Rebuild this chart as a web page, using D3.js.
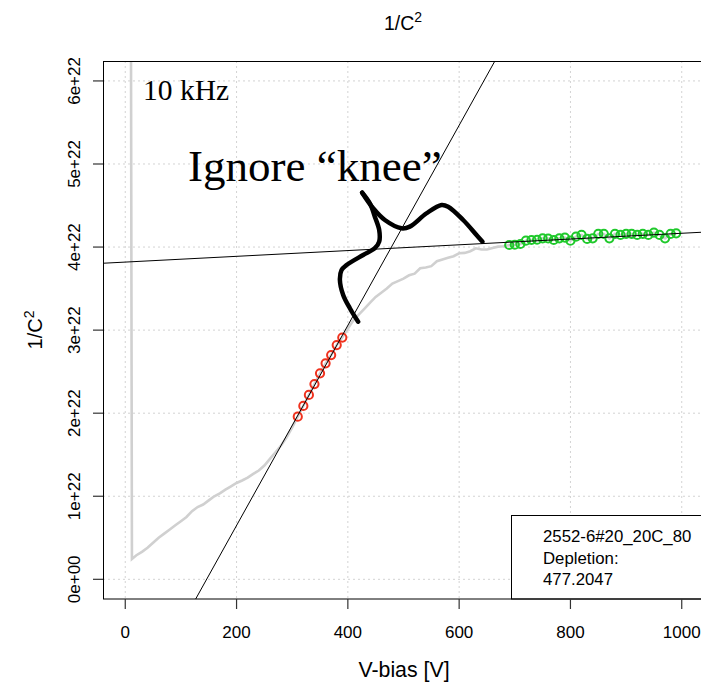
<!DOCTYPE html>
<html>
<head>
<meta charset="utf-8">
<script src="https://cdn.jsdelivr.net/npm/d3@7"></script>
<style>
  body { margin: 0; background: #fff; }
  text { font-family: "Liberation Sans", Arial, sans-serif; }
  .serif { font-family: "Liberation Serif", "Times New Roman", serif; }
</style>
</head>
<body>
<svg id="chart" width="701" height="683"></svg>
<script>
// values of 1/C^2 are in units of 1e22
const xTicks = [0, 200, 400, 600, 800, 1000];
const yTicks = [0, 1, 2, 3, 4, 5, 6];
const yTickLabels = ["0e+00", "1e+22", "2e+22", "3e+22", "4e+22", "5e+22", "6e+22"];

// full measured curve (grey)
const curveV = [10, 12, 20, 30, 40, 50, 60, 70, 80, 90, 100, 110, 120, 130, 140, 150, 160, 170, 180, 190,
  200, 210, 220, 230, 240, 250, 260, 270, 280, 290, 300,
  310, 320, 330, 340, 350, 360, 370, 380, 390,
  400, 410, 420, 430, 440, 450, 460, 470, 480, 490, 500, 510, 520, 530, 540, 550, 560, 570, 580, 590,
  600, 610, 620, 630, 640, 650, 660, 670, 680];
const curveY = [7.5, 0.245, 0.29, 0.33, 0.38, 0.44, 0.50, 0.55, 0.60, 0.65, 0.70, 0.75, 0.82, 0.87, 0.90, 0.95, 1.00, 1.035, 1.08, 1.12,
  1.16, 1.19, 1.225, 1.27, 1.31, 1.37, 1.45, 1.53, 1.61, 1.71, 1.83,
  1.958, 2.087, 2.22, 2.35, 2.48, 2.60, 2.70, 2.82, 2.91,
  3.02, 3.12, 3.19, 3.26, 3.33, 3.40, 3.45, 3.50, 3.56, 3.59, 3.62, 3.66, 3.68, 3.745, 3.755, 3.77, 3.83, 3.85, 3.87, 3.89,
  3.925, 3.93, 3.95, 3.985, 3.97, 3.97, 3.99, 4.005, 4.01];

// points used for the steep fit (red)
const redV = [310, 320, 330, 340, 350, 360, 370, 380, 390];
const redY = [1.958, 2.087, 2.22, 2.35, 2.48, 2.60, 2.70, 2.82, 2.91];

// points used for the flat fit (green)
const greenV = [690, 700, 710, 720, 730, 740, 750, 760, 770, 780, 790, 800, 810, 820, 830, 840,
  850, 860, 870, 880, 890, 900, 910, 920, 930, 940, 950, 960, 970, 980, 990];
const greenY = [4.025, 4.028, 4.037, 4.077, 4.085, 4.088, 4.105, 4.103, 4.085, 4.105, 4.113, 4.077, 4.125, 4.146, 4.098, 4.105,
  4.158, 4.158, 4.105, 4.158, 4.146, 4.158, 4.158, 4.146, 4.158, 4.146, 4.173, 4.146, 4.105, 4.158, 4.165];

// fit lines: y = slope * V + intercept
const fitSteep = { slope: 0.012045, intercept: -1.761 };
const fitFlat = { slope: 0.000347, intercept: 3.819 };

// hand-drawn "knee" mark, in data coordinates
const kneeStroke1 = [[418.5, 3.102], [412.6, 3.162], [403.6, 3.263], [391.6, 3.423], [385.7, 3.604], [388.7, 3.724],
  [397.7, 3.784], [427.5, 3.905], [448.5, 3.986], [456.3, 4.065], [456.3, 4.206], [448.5, 4.366], [439.5, 4.527], [425.7, 4.655]];
const kneeStroke2 = [[425.7, 4.655], [445.5, 4.467], [466.5, 4.326], [496.5, 4.226], [511.4, 4.246], [541.4, 4.407],
  [568.4, 4.507], [580.2, 4.486], [607.2, 4.326], [631.2, 4.146], [642, 4.065]];

const legendLines = ["2552-6#20_20C_80", "Depletion:", "477.2047"];

const svg = d3.select("#chart");
const margin = { top: 61, left: 103, bottom: 84, right: -3 };
const width = 701 - margin.left - margin.right;
const height = 683 - margin.top - margin.bottom;

const x = d3.scaleLinear().domain([-40, 1040]).range([margin.left, margin.left + width]);
const y = d3.scaleLinear().domain([-0.237, 6.24]).range([margin.top + height, margin.top]);

svg.append("clipPath").attr("id", "plotClip")
  .append("rect")
  .attr("x", margin.left).attr("y", margin.top)
  .attr("width", width).attr("height", height);

// grid
const grid = svg.append("g").attr("stroke", "#d3d3d3").attr("stroke-dasharray", "2,3").attr("stroke-width", 1);
grid.selectAll(".gx").data(xTicks).enter().append("line")
  .attr("x1", d => x(d)).attr("x2", d => x(d))
  .attr("y1", margin.top).attr("y2", margin.top + height);
grid.selectAll(".gy").data(yTicks).enter().append("line")
  .attr("x1", margin.left).attr("x2", margin.left + width)
  .attr("y1", d => y(d)).attr("y2", d => y(d));

const plot = svg.append("g").attr("clip-path", "url(#plotClip)");

// grey measured curve
const allV = curveV.concat(greenV);
const allY = curveY.concat(greenY);
const line = d3.line().x(d => x(d[0])).y(d => y(d[1]));
plot.append("path")
  .datum(allV.map((v, i) => [v, allY[i]]))
  .attr("fill", "none")
  .attr("stroke", "#d0d0d0")
  .attr("stroke-width", 2.6)
  .attr("d", line);

// fit points
plot.selectAll(".red").data(redV).enter().append("circle")
  .attr("cx", d => x(d)).attr("cy", (d, i) => y(redY[i]))
  .attr("r", 4.1).attr("fill", "none").attr("stroke", "#f0321e").attr("stroke-width", 2);
plot.selectAll(".green").data(greenV).enter().append("circle")
  .attr("cx", d => x(d)).attr("cy", (d, i) => y(greenY[i]))
  .attr("r", 4.1).attr("fill", "none").attr("stroke", "#1fc92b").attr("stroke-width", 2);

// fit lines
[fitSteep, fitFlat].forEach(f => {
  const v0 = -40, v1 = 1040;
  plot.append("line")
    .attr("x1", x(v0)).attr("y1", y(f.slope * v0 + f.intercept))
    .attr("x2", x(v1)).attr("y2", y(f.slope * v1 + f.intercept))
    .attr("stroke", "#000").attr("stroke-width", 1);
});

// hand drawn annotation
const curvy = d3.line().x(d => x(d[0])).y(d => y(d[1])).curve(d3.curveCatmullRom);
[kneeStroke1, kneeStroke2].forEach(s => {
  plot.append("path").datum(s)
    .attr("fill", "none").attr("stroke", "#000")
    .attr("stroke-width", 4.5).attr("stroke-linecap", "round").attr("stroke-linejoin", "round")
    .attr("d", curvy);
});

svg.append("text").attr("class", "serif")
  .attr("x", x(32)).attr("y", y(5.77))
  .attr("font-size", 29.5).text("10 kHz");
svg.append("text").attr("class", "serif")
  .attr("x", x(112.8)).attr("y", y(4.796))
  .attr("font-size", 45).text("Ignore \u201Cknee\u201D");

// legend box
const lg = svg.append("g");
lg.append("rect")
  .attr("x", 511.5).attr("y", 515.5).attr("width", 220).attr("height", 83.5)
  .attr("fill", "#fff").attr("stroke", "#000").attr("stroke-width", 1);
lg.selectAll("text").data(legendLines).enter().append("text")
  .attr("x", 543).attr("y", (d, i) => 542 + i * 21.5)
  .attr("font-size", 16.8).text(d => d);

// frame
svg.append("rect")
  .attr("x", margin.left + 0.5).attr("y", margin.top + 0.5)
  .attr("width", width).attr("height", height - 0.5)
  .attr("fill", "none").attr("stroke", "#000").attr("stroke-width", 1);

// axes
const axX = svg.append("g");
axX.selectAll("line").data(xTicks).enter().append("line")
  .attr("x1", d => x(d)).attr("x2", d => x(d))
  .attr("y1", margin.top + height).attr("y2", margin.top + height + 10)
  .attr("stroke", "#333").attr("stroke-width", 1.2);
axX.selectAll("text").data(xTicks).enter().append("text")
  .attr("x", d => x(d)).attr("y", 638)
  .attr("text-anchor", "middle").attr("font-size", 17).text(d => d);

const axY = svg.append("g");
axY.selectAll("line").data(yTicks).enter().append("line")
  .attr("x1", margin.left - 10).attr("x2", margin.left)
  .attr("y1", d => y(d)).attr("y2", d => y(d))
  .attr("stroke", "#333").attr("stroke-width", 1.2);
axY.selectAll("text").data(yTicks).enter().append("text")
  .attr("transform", d => `translate(80,${y(d)}) rotate(-90)`)
  .attr("text-anchor", "middle").attr("font-size", 17)
  .text((d, i) => yTickLabels[i]);

// titles
const title = svg.append("text").attr("x", 403).attr("y", 30)
  .attr("text-anchor", "middle").attr("font-size", 19.5);
title.append("tspan").text("1/C");
title.append("tspan").attr("dy", -8).attr("font-size", 14).text("2");

svg.append("text").attr("x", 404).attr("y", 677)
  .attr("text-anchor", "middle").attr("font-size", 21.3).text("V-bias [V]");

const yl = svg.append("text")
  .attr("transform", `translate(42,330) rotate(-90)`)
  .attr("text-anchor", "middle").attr("font-size", 20);
yl.append("tspan").text("1/C");
yl.append("tspan").attr("dy", -8).attr("font-size", 14).text("2");
</script>
</body>
</html>
